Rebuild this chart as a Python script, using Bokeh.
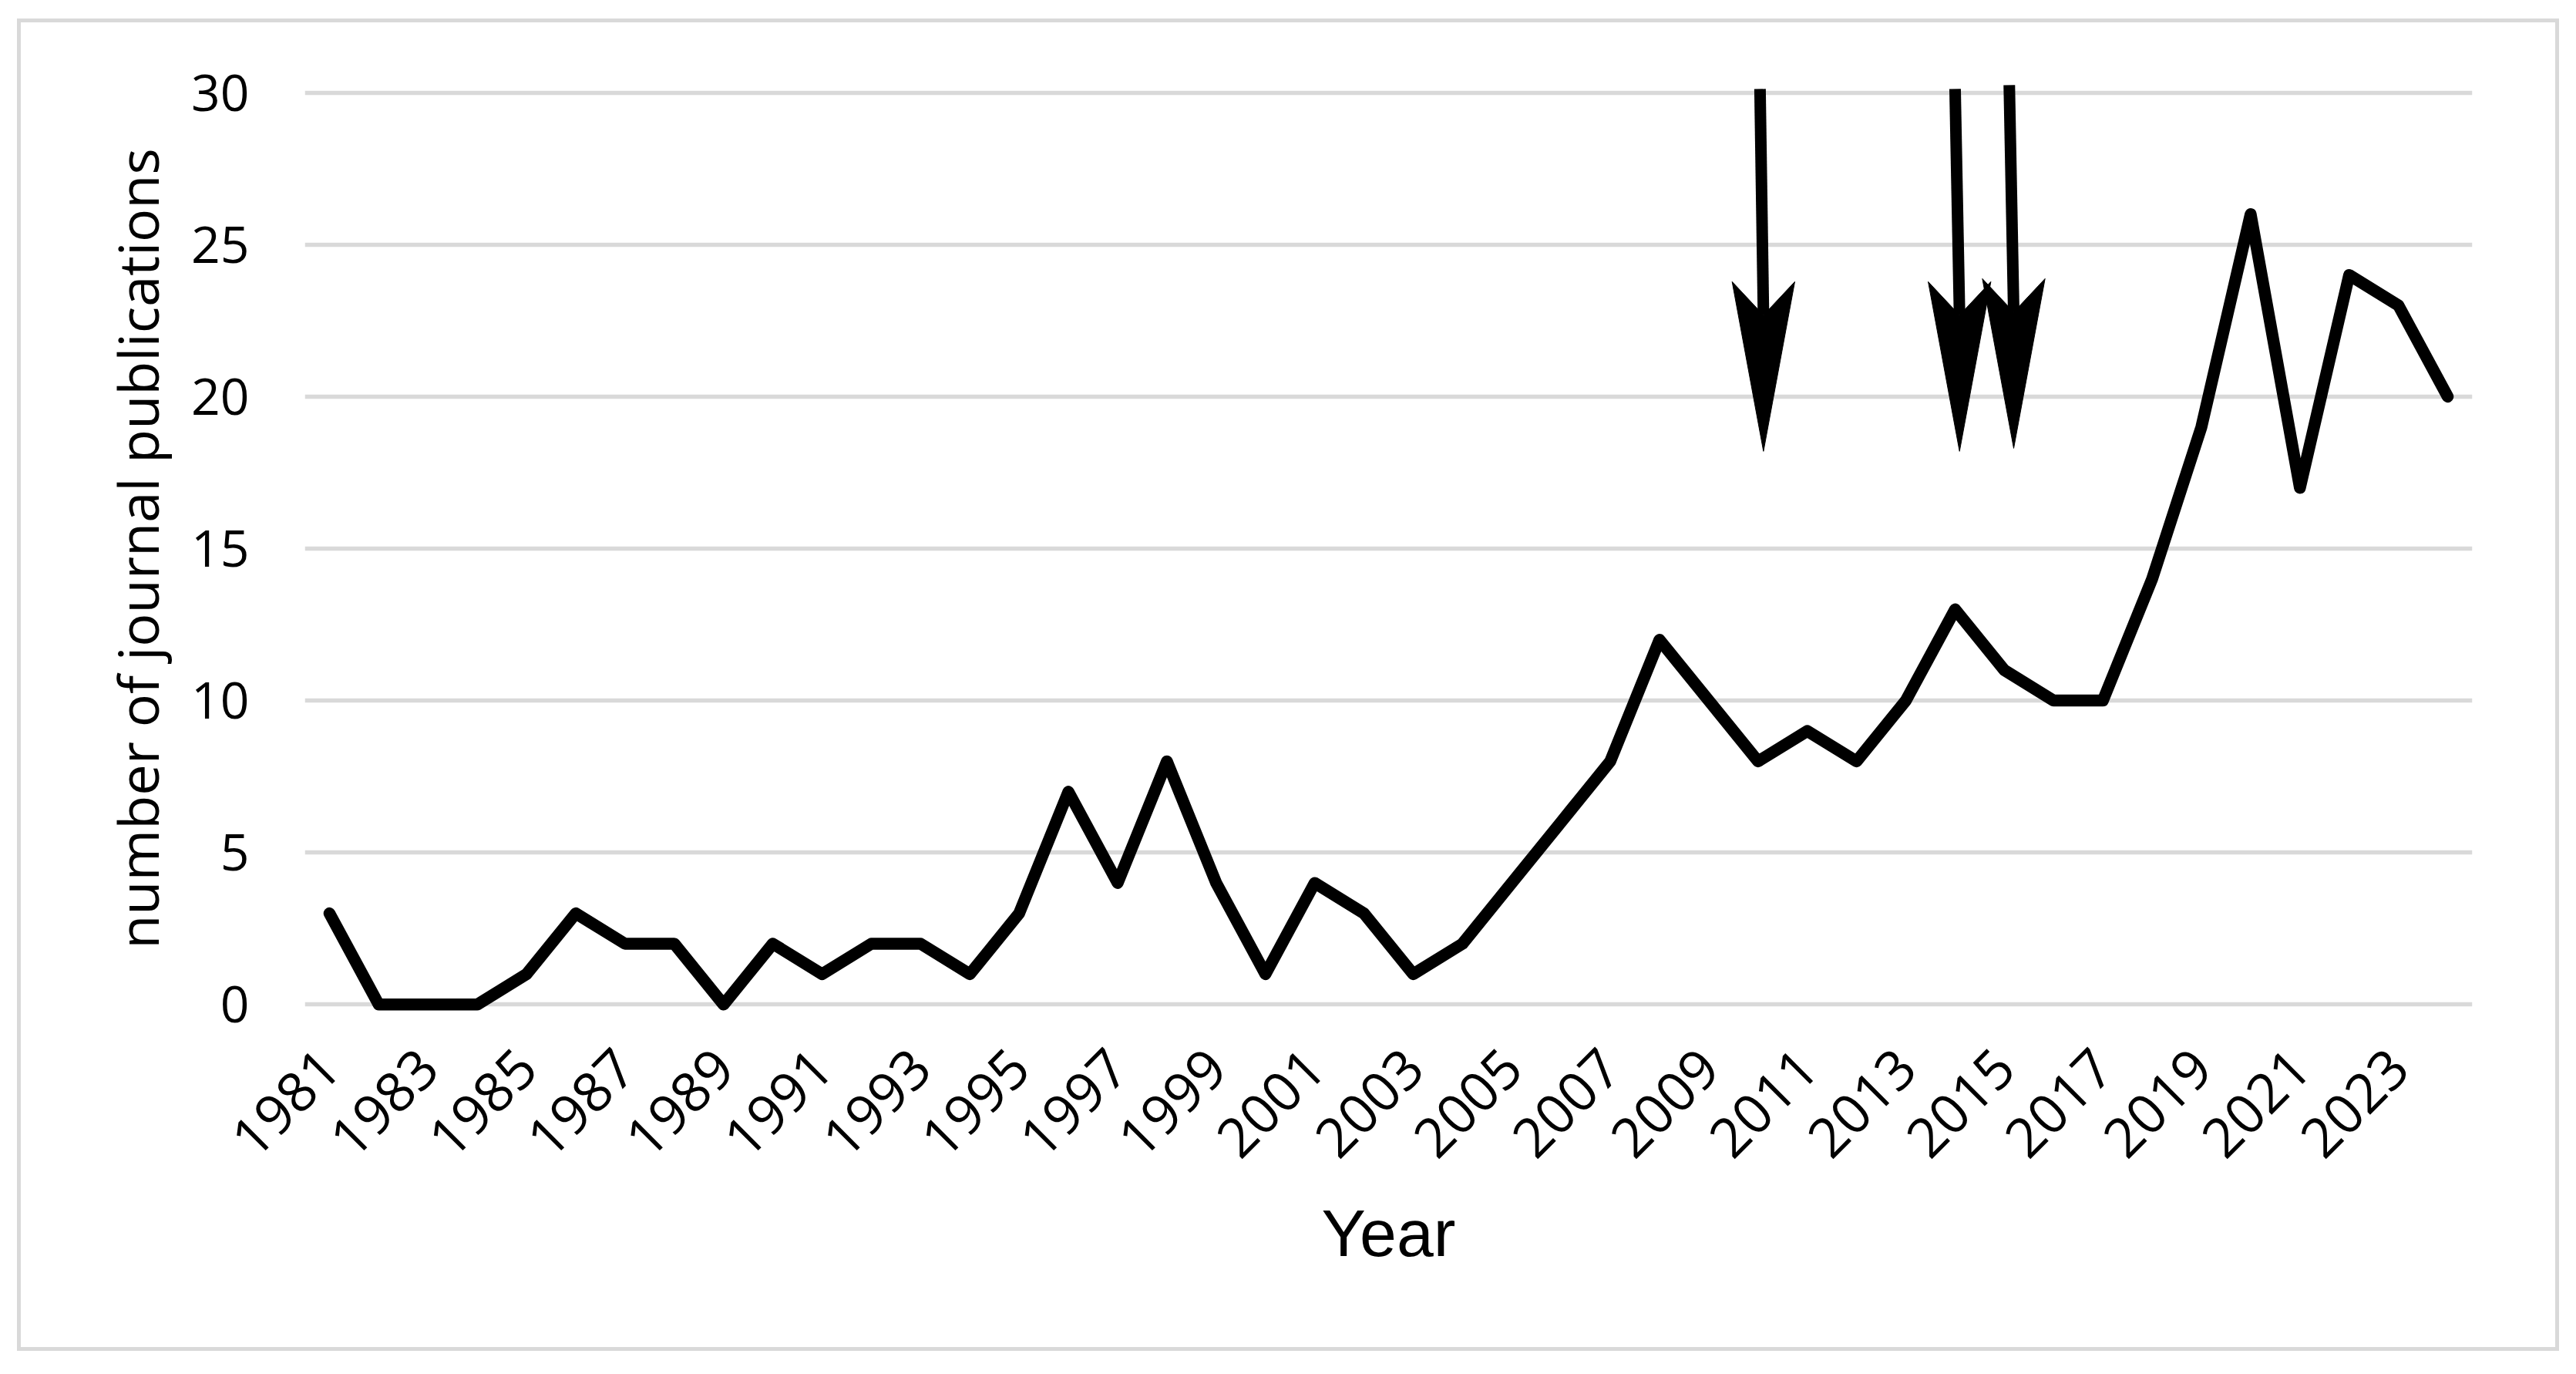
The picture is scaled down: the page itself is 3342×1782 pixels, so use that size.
import math
from bokeh.plotting import figure
from bokeh.models import Range1d, FixedTicker
from bokeh.embed import file_html
from bokeh.resources import INLINE

# ---- data ----
years = list(range(1981, 2025))
counts = [3, 0, 0, 0, 1, 3, 2, 2, 0, 2, 1, 2, 2, 1, 3, 7, 4, 8, 4, 1,
          4, 3, 1, 2, 4, 6, 8, 12, 10, 8, 9, 8, 10, 13, 11, 10, 10, 14, 19, 26,
          17, 24, 23, 20]
x_tick_years = list(range(1981, 2024, 2))
y_ticks = [0, 5, 10, 15, 20, 25, 30]

# arrows (annotations): shaft top and head tip positions
arrow_x_top = [2010.04, 2014.0, 2015.1]
arrow_x_tip = [2010.11, 2014.09, 2015.19]
arrow_top = [30.12, 30.12, 30.25]
arrow_tip = [18.2, 18.2, 18.3]

# ---- style ----
FONT = "Open Sans"
W, H = 3288, 1718
HEAD_HALF_W = 0.636   # x data units
HEAD_LEN = 5.58       # y data units
NOTCH = 4.48          # y data units

p = figure(width=W, height=H, output_backend="svg", toolbar_location=None,
           x_range=Range1d(1980.5, 2024.5), y_range=Range1d(-0.6, 30.6),
           min_border_left=368, min_border_right=118,
           min_border_top=67, min_border_bottom=431)
p.background_fill_color = "white"
p.border_fill_color = "white"
p.outline_line_color = None
# outer light-gray chart border
p.styles = {"box-sizing": "content-box",
            "border": "5px solid #d9d9d9",
            "margin-left": "22px",
            "margin-top": "24px"}

# grid
p.xgrid.visible = False
p.ygrid.grid_line_color = "#d9d9d9"
p.ygrid.grid_line_width = 5.5

# axes
for ax in (p.xaxis[0], p.yaxis[0]):
    ax.axis_line_color = None
    ax.major_tick_line_color = None
    ax.minor_tick_line_color = None
    ax.major_tick_out = 0
    ax.major_tick_in = 0
    ax.minor_tick_out = 0
    ax.minor_tick_in = 0
    ax.major_label_text_font = FONT
    ax.major_label_text_color = "black"

p.yaxis.major_label_text_font_size = "66px"
p.xaxis.major_label_text_font_size = "71px"

p.yaxis.ticker = FixedTicker(ticks=y_ticks)
p.yaxis.major_label_standoff = 72
p.yaxis.axis_label = "number of journal publications"
p.yaxis.axis_label_text_font = FONT
p.yaxis.axis_label_text_font_size = "72px"
p.yaxis.axis_label_text_font_style = "normal"
p.yaxis.axis_label_text_color = "black"
p.yaxis.axis_label_standoff = 18

p.xaxis.ticker = FixedTicker(ticks=x_tick_years)
p.xaxis.major_label_orientation = math.pi / 4
p.xaxis.major_label_standoff = 46
p.xaxis.axis_label = "Year"
p.xaxis.axis_label_text_font = "Liberation Sans"
p.xaxis.axis_label_text_font_size = "86px"
p.xaxis.axis_label_text_font_style = "normal"
p.xaxis.axis_label_text_color = "black"
p.xaxis.axis_label_standoff = 24

# data line
p.line(years, counts, line_color="black", line_width=15.5,
       line_join="round", line_cap="round")

# arrows
p.segment(x0=arrow_x_top, y0=arrow_top, x1=arrow_x_tip,
          y1=[t + NOTCH for t in arrow_tip], line_color="black",
          line_width=15, line_cap="butt")
heads_x = [[x, x + HEAD_HALF_W, x, x - HEAD_HALF_W] for x in arrow_x_tip]
heads_y = [[y, y + HEAD_LEN, y + NOTCH, y + HEAD_LEN] for y in arrow_tip]
p.patches(heads_x, heads_y, fill_color="black", line_color="black", line_width=1)

open("out.html", "w").write(file_html(p, INLINE))
